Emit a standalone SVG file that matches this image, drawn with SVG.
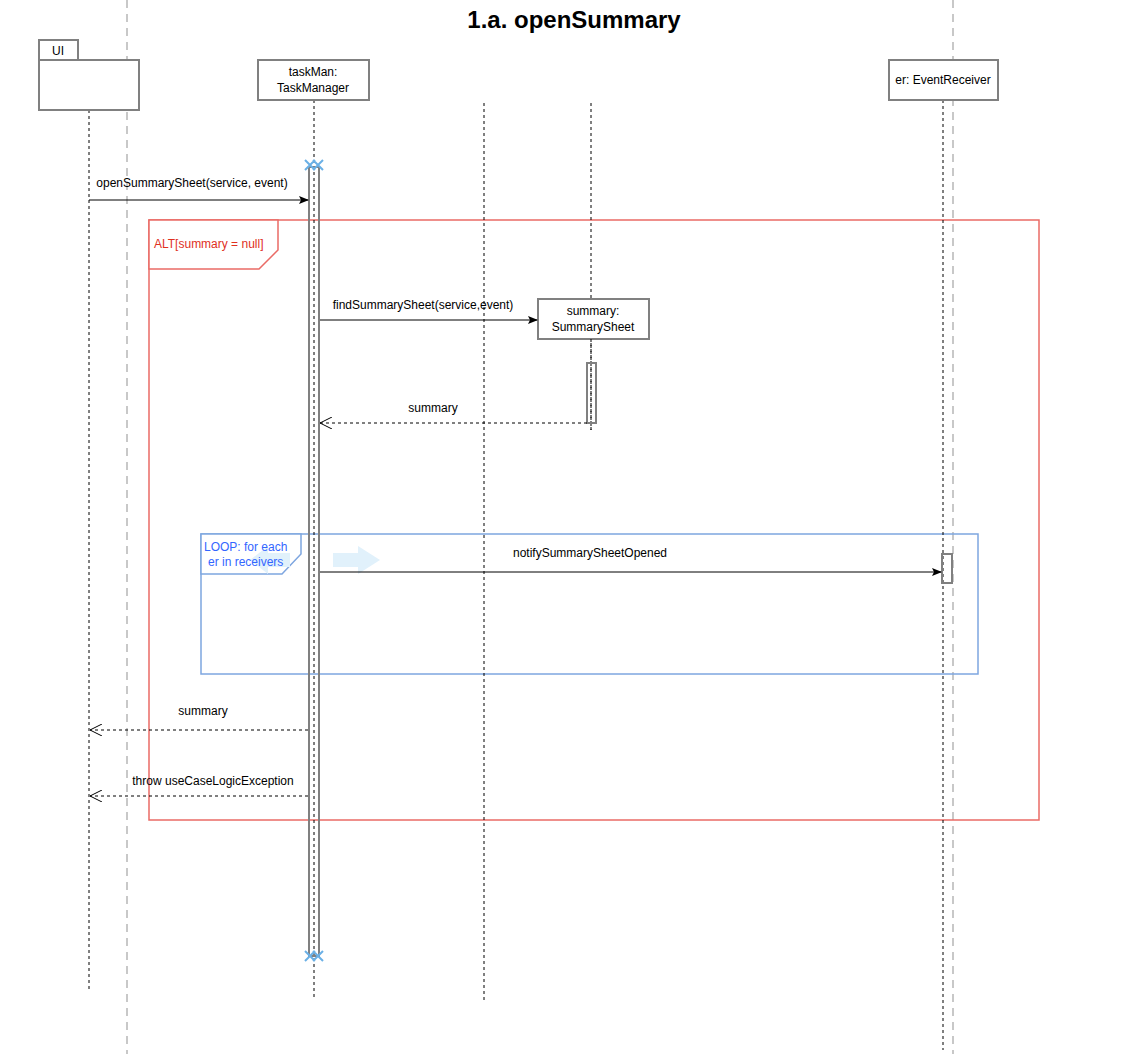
<svg xmlns="http://www.w3.org/2000/svg" width="1148" height="1054" viewBox="0 0 1148 1054">
<defs>
<style>
text{font-family:"Liberation Sans",Arial,sans-serif;font-size:12px;fill:#000}
.box{fill:#fff;stroke:#808080;stroke-width:2}
.life{stroke:#000;stroke-width:1;stroke-dasharray:3,3;fill:none}
.page{stroke:#c8c8c8;stroke-width:2;stroke-dasharray:8,6;fill:none}
.act{fill:none;stroke:#808080;stroke-width:2}
.msg{stroke:#000;stroke-width:1;fill:none}
.ret{stroke:#000;stroke-width:1;stroke-dasharray:3,3;fill:none}
.x{stroke:#6ab0e6;stroke-width:2;fill:none}
</style>
<marker id="fa" markerWidth="10" markerHeight="8" refX="9" refY="4" orient="auto" markerUnits="userSpaceOnUse">
<path d="M0,0 L10,4 L0,8 L2,4 Z" fill="#000"/>
</marker>
<marker id="oa" markerWidth="14" markerHeight="12" refX="13" refY="6" orient="auto" markerUnits="userSpaceOnUse">
<path d="M1,0 L13,6 L1,12" fill="none" stroke="#000" stroke-width="1"/>
</marker>
</defs>
<rect width="1148" height="1054" fill="#fff"/>
<line class="page" x1="127" y1="0" x2="127" y2="1054"/>
<line class="page" x1="953" y1="0" x2="953" y2="1054"/>
<text x="574" y="28" text-anchor="middle" style="font-size:24px;font-weight:bold">1.a. openSummary</text>

<g id="frames">
<g id="alt">
<rect x="149" y="220" width="890" height="600" fill="none" stroke="#ea6b66" stroke-width="1.5"/>
<path d="M149,220 H278 V250 L259,269 H149 Z" fill="#fff" stroke="#ea6b66" stroke-width="1.5"/>
<text x="154" y="248" style="fill:#e0301e">ALT[summary = null]</text>
</g>
<g id="loop">
<rect x="201" y="534" width="777" height="140" fill="none" stroke="#7ea6e0" stroke-width="1.5"/>
<path d="M201,534 H301 V554 L282,574 H201 Z" fill="#fff" stroke="#7ea6e0" stroke-width="1.5"/>
<path d="M290,553 H268 V546 L250,560 L268,574 V567 H290 Z" fill="#e1f1fb"/>
<text x="204" y="551" style="fill:#3366ff">LOOP: for each</text>
<text x="208" y="566" style="fill:#3366ff">er in receivers</text>
<path d="M333,553 H358 V546 L380,560 L358,574 V567 H333 Z" fill="#e1f1fb"/>
</g>
</g>

<g id="UI">
<line class="life" x1="89" y1="110" x2="89" y2="990"/>
<rect class="box" x="39" y="40" width="39" height="20"/>
<text x="58" y="55" text-anchor="middle">UI</text>
<rect class="box" x="39" y="60" width="100" height="50"/>
</g>

<g id="taskMan">
<line class="life" x1="314" y1="100" x2="314" y2="1000"/>
<rect class="box" x="258" y="60" width="111" height="40"/>
<text x="313" y="76" text-anchor="middle">taskMan:</text>
<text x="313" y="92" text-anchor="middle">TaskManager</text>
<rect class="act" x="309" y="167" width="10" height="789"/>
<path class="x" d="M305,160 L315,170 M315,160 L305,170 M313,160 L323,170 M323,160 L313,170"/>
<path class="x" d="M305,951 L315,961 M315,951 L305,961 M313,951 L323,961 M323,951 L313,961"/>
</g>

<g id="lifeline484">
<line class="life" x1="484" y1="103" x2="484" y2="1000"/>
</g>

<g id="summary">
<line class="life" x1="591" y1="103" x2="591" y2="430"/>
<rect class="box" x="538" y="299" width="111" height="40"/>
<text x="593" y="315" text-anchor="middle">summary:</text>
<text x="593" y="331" text-anchor="middle">SummarySheet</text>
<line class="life" x1="591" y1="339" x2="591" y2="430"/>
<rect class="act" x="587" y="363" width="9" height="60"/>
</g>

<g id="er">
<line class="life" x1="943" y1="100" x2="943" y2="1050"/>
<rect class="box" x="889" y="60" width="109" height="40"/>
<text x="943" y="84" text-anchor="middle">er: EventReceiver</text>
<rect class="act" x="942" y="554" width="10" height="29"/>
</g>

<g id="connectors">
<line class="msg" x1="89" y1="200" x2="308" y2="200" marker-end="url(#fa)"/>
<text x="192" y="187" text-anchor="middle">openSummarySheet(service, event)</text>
<line class="msg" x1="320" y1="320" x2="537" y2="320" marker-end="url(#fa)"/>
<text x="423" y="309" text-anchor="middle">findSummarySheet(service,event)</text>
<line class="ret" x1="587" y1="423" x2="320" y2="423" marker-end="url(#oa)"/>
<text x="433" y="412" text-anchor="middle">summary</text>
<line class="msg" x1="320" y1="572" x2="941" y2="572" marker-end="url(#fa)"/>
<text x="590" y="557" text-anchor="middle">notifySummarySheetOpened</text>
<line class="ret" x1="308" y1="730" x2="90" y2="730" marker-end="url(#oa)"/>
<text x="203" y="715" text-anchor="middle">summary</text>
<line class="ret" x1="308" y1="796" x2="90" y2="796" marker-end="url(#oa)"/>
<text x="213" y="785" text-anchor="middle">throw useCaseLogicException</text>
</g>
</svg>
